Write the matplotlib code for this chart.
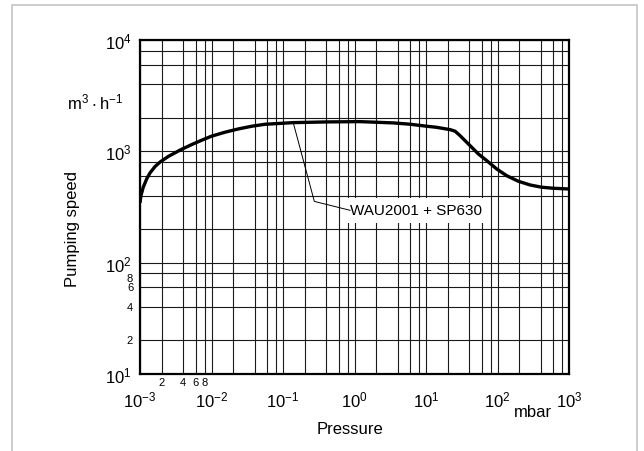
import matplotlib
matplotlib.use('Agg')
from matplotlib import pyplot as plt
from matplotlib.patches import Rectangle
from matplotlib.transforms import ScaledTranslation

plt.rcParams['font.family'] = ['Liberation Sans', 'DejaVu Sans']
plt.rcParams['mathtext.fontset'] = 'custom'
plt.rcParams['mathtext.rm'] = 'Liberation Sans'

# pumping speed curve (mbar, m3/h)
pressure = [1e-3, 1.03e-3, 1.11e-3, 1.24e-3, 1.38e-3, 1.62e-3, 1.9e-3, 2.49e-3,
            3.62e-3, 5.28e-3, 7.3e-3, 1e-2, 1.55e-2, 2.37e-2, 3.65e-2, 5.6e-2,
            0.082, 0.139, 0.408, 1.19, 3.49, 5.97, 10.2, 14, 21.7, 25.5, 29.9,
            41.2, 53.9, 70.6, 97.3, 134, 195, 285, 415, 603, 1000]
speed = [344, 400, 476, 565, 640, 729, 800, 900,
         1025, 1150, 1259, 1368, 1486, 1589, 1680, 1750,
         1775, 1811, 1837, 1849, 1800, 1752, 1681, 1644, 1567, 1517, 1384,
         1127, 948, 826, 695, 605, 539, 499, 476, 466, 459]

x_major = [1e-3, 1e-2, 1e-1, 1e0, 1e1, 1e2, 1e3]
x_major_labels = [r'$\mathregular{10^{-3}}$', r'$\mathregular{10^{-2}}$', r'$\mathregular{10^{-1}}$',
                  r'$\mathregular{10^{0}}$', r'$\mathregular{10^{1}}$', r'$\mathregular{10^{2}}$',
                  r'$\mathregular{10^{3}}$']
y_major = [1e1, 1e2, 1e3, 1e4]
y_major_labels = [r'$\mathregular{10^{1}}$', r'$\mathregular{10^{2}}$',
                  r'$\mathregular{10^{3}}$', r'$\mathregular{10^{4}}$']
minor_mult = [2, 4, 6, 8]
curve_label = 'WAU2001 + SP630'

fig = plt.figure(figsize=(6.44, 4.52), dpi=100)
ax = fig.add_axes([140/644, 1-375/452, 429/644, 334/452])

ax.plot(pressure, speed, color='black', lw=2.4, zorder=5,
        solid_joinstyle='round', solid_capstyle='butt')
ax.set_xscale('log')
ax.set_yscale('log')
ax.set_xlim(1e-3, 1e3)
ax.set_ylim(1e1, 1e4)

x_minor = [m * d for d in x_major[:-1] for m in minor_mult]
x_minor_labels = [str(m) if d == 1e-3 else '' for d in x_major[:-1] for m in minor_mult]
y_minor = [m * d for d in y_major[:-1] for m in minor_mult]

ax.set_xticks(x_major, x_major_labels)
ax.set_xticks(x_minor, x_minor_labels, minor=True)
ax.set_yticks(y_major, y_major_labels)
ax.set_yticks(y_minor, [''] * len(y_minor), minor=True)

# small y labels of the lowest decade, the 8 set a little lower to clear 10^2
for m in minor_mult:
    off = ScaledTranslation(0, -3.5/72 if m == 8 else 0, fig.dpi_scale_trans)
    ax.text(-0.016, m * y_major[0], str(m), fontsize=8, ha='right', va='center',
            transform=ax.get_yaxis_transform() + off)

ax.tick_params(axis='both', which='both', length=0)
ax.tick_params(axis='x', which='major', labelsize=12, pad=11)
ax.tick_params(axis='x', which='minor', labelsize=8, pad=2)
ax.tick_params(axis='y', which='major', labelsize=12, pad=6)

ax.grid(True, which='both', color='#1a1a1a', lw=0.8, zorder=1)
ax.set_axisbelow(True)
for s in ax.spines.values():
    s.set_linewidth(1.6)

ax.text(-0.04, 0.817, r'$\mathregular{m^3 \cdot h^{-1}}$', transform=ax.transAxes,
        ha='right', va='center', fontsize=12)
ax.text(0.916, -0.112, 'mbar', transform=ax.transAxes, ha='center', va='center', fontsize=12)

ax.text(0.49, 0.49, curve_label, transform=ax.transAxes, ha='left', va='center',
        fontsize=11, zorder=3,
        bbox=dict(boxstyle='square,pad=0.35', fc='white', ec='none'))
ax.annotate('', xy=(0.139, 1811), xycoords='data',
            xytext=(0.49, 0.49), textcoords='axes fraction', zorder=4,
            arrowprops=dict(arrowstyle='-', lw=0.7, color='black', shrinkA=0, shrinkB=0,
                            connectionstyle='angle,angleA=166,angleB=105,rad=0'))

fig.text(73/644, 1-229/452, 'Pumping speed', rotation=90, ha='center', va='center', fontsize=12)
fig.text(350/644, 1-430/452, 'Pressure', ha='center', va='center', fontsize=12)

fig.patches.append(Rectangle((12/644, -0.05), 625/644, 1.05 - 6/452,
                             transform=fig.transFigure, fill=False, ec='#c4c4c4', lw=1.2))

fig.savefig('out.png', dpi=100)
